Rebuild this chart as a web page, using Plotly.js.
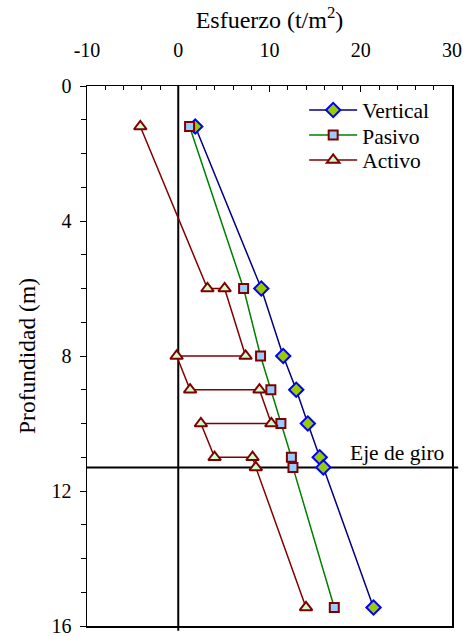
<!DOCTYPE html>
<html>
<head>
<meta charset="utf-8">
<script src="https://cdn.plot.ly/plotly-3.0.1.min.js"></script>
<style>html,body{margin:0;padding:0;background:#fff;}#chart{width:465px;height:637px;}</style>
</head>
<body>
<div id="chart"></div>
<script>
// Data
const verticalX = [1.86, 9.1, 11.5, 12.93, 14.2, 15.5, 15.9, 21.4];
const verticalY = [1.2, 6, 8, 9, 10, 11, 11.3, 15.45];
const pasivoX = [1.24, 7.16, 9.02, 10.15, 11.25, 12.4, 12.57, 17.1];
const pasivoY = [1.2, 6, 8, 9, 10, 11, 11.3, 15.45];
const activoX = [-4.16, 3.2, 5.08, 7.38, -0.18, 1.3, 8.9, 10.2, 2.48, 3.98, 8.14, 8.5, 14.0];
const activoY = [1.2, 6, 6, 8, 8, 9, 9, 10, 10, 11, 11, 11.3, 15.45];
const ejeGiroDepth = 11.3;
const xTicks = [-10, 0, 10, 20, 30];
const yTicks = [0, 4, 8, 12, 16];

const font = "Liberation Serif";

const traces = [
  {x: verticalX, y: verticalY, name: "Vertical", type: "scatter", mode: "lines+markers", legend: "legend",
   line: {color: "#000080", width: 1.5},
   marker: {symbol: "diamond", size: 11, color: "#99cc00", line: {color: "#0000ff", width: 2}}},
  {x: pasivoX, y: pasivoY, name: "Pasivo", type: "scatter", mode: "lines+markers", legend: "legend2",
   line: {color: "#008000", width: 1.5},
   marker: {symbol: "square", size: 9, color: "#99ccff", line: {color: "#800000", width: 2}}},
  {x: activoX, y: activoY, name: "Activo", type: "scatter", mode: "lines+markers", legend: "legend3",
   line: {color: "#800000", width: 1.5},
   marker: {symbol: "triangle-up", size: 11, color: "#ccffcc", line: {color: "#800000", width: 2}}}
];

const legBase = {x: 0.595, xanchor: "left", yanchor: "middle", bgcolor: "rgba(0,0,0,0)", itemwidth: 48,
                 font: {family: font, size: 21.5, color: "#000"}};

const layout = {
  width: 465, height: 637,
  margin: {l: 87, r: 13, t: 86, b: 11},
  paper_bgcolor: "#fff", plot_bgcolor: "#fff",
  font: {family: font, size: 20, color: "#000"},
  showlegend: true,
  legend: Object.assign({}, legBase, {y: 0.9556}),
  legend2: Object.assign({}, legBase, {y: 0.909}),
  legend3: Object.assign({}, legBase, {y: 0.863}),
  xaxis: {
    side: "top", range: [-10, 30], tickvals: xTicks, ticktext: xTicks.map(String),
    showgrid: false, zeroline: false, showline: true, linecolor: "#000", linewidth: 1.5, mirror: true,
    ticks: "inside", ticklen: 6, tickcolor: "#000", tickwidth: 1,
    ticklabelstandoff: 20,
    minor: {dtick: 2, tick0: 0, ticks: "inside", ticklen: 4, tickcolor: "#000", showgrid: false},
    tickfont: {family: font, size: 20},
    title: {text: "Esfuerzo (t/m<sup>2</sup>)", font: {family: font, size: 24}, standoff: 3}
  },
  yaxis: {
    range: [16, 0], tickvals: yTicks, ticktext: yTicks.map(String),
    showgrid: false, zeroline: false, showline: true, linecolor: "#000", linewidth: 1.5, mirror: true,
    ticks: "outside", ticklen: 6, tickcolor: "#000", tickwidth: 1,
    ticklabelstandoff: 4,
    minor: {dtick: 1, tick0: 0, ticks: "outside", ticklen: 5, tickcolor: "#000", showgrid: false},
    tickfont: {family: font, size: 20},
    title: {text: "Profundidad (m)", font: {family: font, size: 23.5}, standoff: 9}
  },
  shapes: [
    {type: "line", xref: "x", yref: "paper", x0: 0, x1: 0, y0: -0.009, y1: 1, line: {color: "#000", width: 2}, layer: "below"},
    {type: "line", xref: "paper", yref: "y", x0: 0, x1: 1.017, y0: ejeGiroDepth, y1: ejeGiroDepth, line: {color: "#000", width: 2}, layer: "below"}
  ],
  annotations: [
    {text: "Eje de giro", xref: "paper", yref: "y", x: 0.983, y: ejeGiroDepth, xanchor: "right", yanchor: "bottom",
     showarrow: false, font: {family: font, size: 21.5, color: "#000"}}
  ]
};

Plotly.newPlot("chart", traces, layout, {staticPlot: true, displayModeBar: false});
</script>
</body>
</html>
